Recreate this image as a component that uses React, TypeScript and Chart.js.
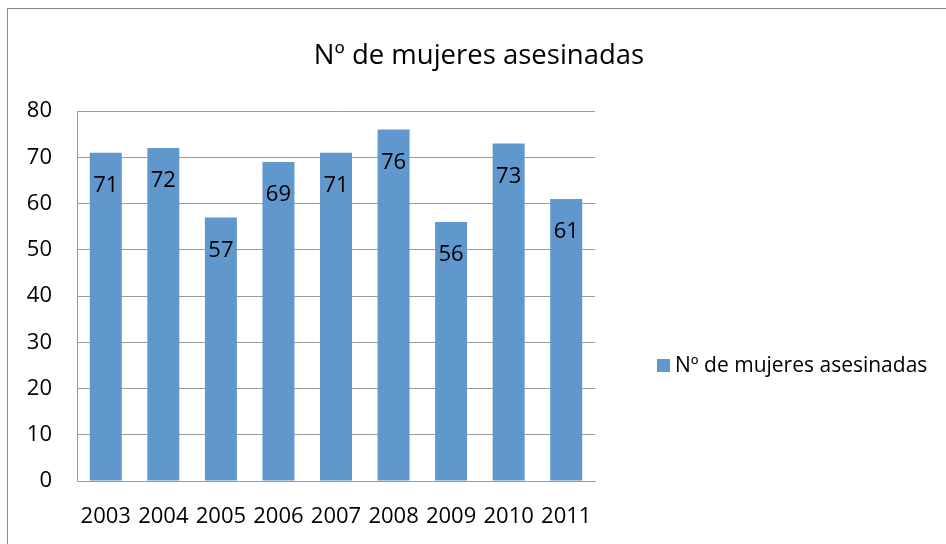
import React, { useEffect, useRef } from "react";
import { Chart, registerables } from "chart.js";

Chart.register(...registerables);

const categories = ["2003", "2004", "2005", "2006", "2007", "2008", "2009", "2010", "2011"];
const values = [71, 72, 57, 69, 71, 76, 56, 73, 61];
const seriesLabel = "Nº de mujeres asesinadas";
const chartTitle = "Nº de mujeres asesinadas";

const FONT = "'Open Sans', 'Noto Sans', sans-serif";
const BAR_COLOR = "#6097cc";
const GRID_COLOR = "#9c9c9c";

export default function App() {
  const ref = useRef<HTMLCanvasElement | null>(null);

  useEffect(() => {
    if (!ref.current) return;

    const decor = {
      id: "decor",
      beforeDraw(chart: any) {
        const ctx = chart.ctx;
        ctx.save();
        ctx.fillStyle = "#ffffff";
        ctx.fillRect(0, 0, chart.width, chart.height);
        ctx.strokeStyle = "#8a8a8a";
        ctx.lineWidth = 1;
        ctx.strokeRect(7.5, 8.5, 2000, 2000);
        ctx.restore();
      },
      afterDatasetsDraw(chart: any) {
        const ctx = chart.ctx;
        ctx.save();
        ctx.fillStyle = "#000000";
        ctx.font = `22px ${FONT}`;
        ctx.textAlign = "center";
        ctx.textBaseline = "middle";
        const meta = chart.getDatasetMeta(0);
        meta.data.forEach((bar: any, i: number) => {
          const v = chart.data.datasets[0].data[i];
          ctx.fillText(String(v), bar.x, bar.y + 33);
        });
        ctx.restore();
      },
      afterDraw(chart: any) {
        const ctx = chart.ctx;
        ctx.save();
        ctx.fillStyle = "#000000";
        ctx.textBaseline = "middle";
        ctx.textAlign = "center";
        ctx.font = `27.5px ${FONT}`;
        ctx.fillText(chartTitle, 479, 56);
        // legend
        ctx.fillStyle = BAR_COLOR;
        ctx.fillRect(657, 359, 13, 13);
        ctx.fillStyle = "#000000";
        ctx.textAlign = "left";
        ctx.font = `21px ${FONT}`;
        ctx.fillText(chart.data.datasets[0].label, 675, 366);
        ctx.restore();
      },
    };

    const chart = new Chart(ref.current, {
      type: "bar",
      data: {
        labels: categories,
        datasets: [
          {
            label: seriesLabel,
            data: values,
            backgroundColor: BAR_COLOR,
            borderWidth: 0,
            categoryPercentage: 1,
            barPercentage: 0.556,
          },
        ],
      },
      options: {
        animation: false,
        responsive: false,
        maintainAspectRatio: false,
        layout: { padding: { left: 0, top: 111, right: 351, bottom: 0 } },
        plugins: {
          legend: { display: false },
          title: { display: false },
          tooltip: { enabled: false },
        },
        scales: {
          x: {
            grid: { display: false, drawTicks: false },
            border: { display: true, color: GRID_COLOR, width: 1 },
            ticks: {
              color: "#000000",
              font: { family: FONT, size: 22 },
              padding: 23,
              maxRotation: 0,
              autoSkip: false,
            },
            afterFit(scale: any) {
              scale.height = 63;
            },
          },
          y: {
            min: 0,
            max: 80,
            grid: { color: GRID_COLOR, drawTicks: false },
            border: { display: true, color: GRID_COLOR, width: 1 },
            ticks: {
              stepSize: 10,
              color: "#000000",
              font: { family: FONT, size: 22 },
              padding: 25,
            },
            afterFit(scale: any) {
              scale.width = 77;
            },
          },
        },
      },
      plugins: [decor],
    });

    return () => chart.destroy();
  }, []);

  return (
    <div style={{ position: "absolute", left: 0, top: 0, width: 946, height: 544 }}>
      <canvas ref={ref} width={946} height={544} style={{ display: "block" }} />
    </div>
  );
}
